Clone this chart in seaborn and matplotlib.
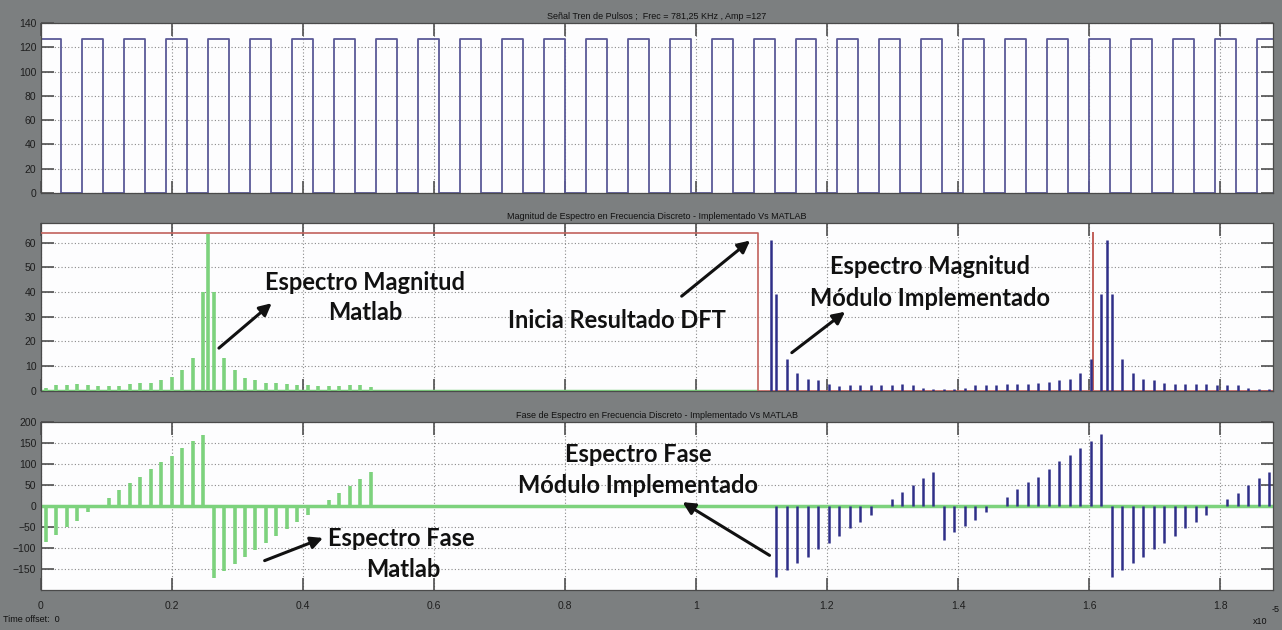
import matplotlib
matplotlib.use("Agg")
import numpy as np
import pandas as pd
import matplotlib.pyplot as plt
import seaborn as sns

# time axis is in units of 1e-5 s (scope shows x10^-5)
pulse_starts = [0.000, 0.064, 0.128, 0.192, 0.256, 0.320, 0.384, 0.448, 0.512, 0.576,
                0.640, 0.704, 0.768, 0.832, 0.896, 0.960, 1.024, 1.088, 1.152, 1.216,
                1.280, 1.344, 1.408, 1.472, 1.536, 1.600, 1.664, 1.728, 1.792, 1.856]
pulse_width = 0.032
pulse_amp = 127

# Matlab spectrum (green)
matlab_t = [0.008, 0.024, 0.040, 0.056, 0.072, 0.088, 0.104, 0.120, 0.136, 0.152, 0.168,
            0.184, 0.200, 0.216, 0.232, 0.248, 0.264, 0.280, 0.296, 0.312, 0.328, 0.344,
            0.360, 0.376, 0.392, 0.408, 0.424, 0.440, 0.456, 0.472, 0.488, 0.504]
matlab_mag = [1.3, 2.5, 2.5, 2.8, 2.5, 2.2, 2.2, 2.0, 2.8, 3.3, 3.3, 4.3, 5.8, 8.4, 13.5, 40,
              40, 13.2, 8.4, 5.3, 4.3, 3.3, 3.3, 2.8, 2.5, 2.5, 2.2, 2.2, 2.2, 2.5, 2.5, 1.7]
matlab_dc_t = [0.256]
matlab_dc = [63.5]
matlab_phase = [-85, -70, -50, -35, -15, 0, 20, 38, 55, 70, 88, 105, 118, 137, 155, 170,
                -172, -155, -138, -122, -105, -88, -72, -55, -38, -22, 0, 15, 30, 48, 65, 82]

# implemented module spectrum (blue), two output frames
impl_t = [1.1225, 1.1385, 1.1545, 1.1705, 1.1865, 1.2025, 1.2185, 1.2345, 1.2505, 1.2665,
          1.2825, 1.2985, 1.3145, 1.3305, 1.3465, 1.3625, 1.3785, 1.3945, 1.4105, 1.4265,
          1.4425, 1.4585, 1.4745, 1.4905, 1.5065, 1.5225, 1.5385, 1.5545, 1.5705, 1.5865,
          1.6025, 1.6185,
          1.6345, 1.6505, 1.6665, 1.6825, 1.6985, 1.7145, 1.7305, 1.7465, 1.7625, 1.7785,
          1.7945, 1.8105, 1.8265, 1.8425, 1.8585, 1.8745]
impl_mag = [39, 13, 7.4, 5.0, 4.3, 3.0, 2.0, 2.4, 2.4, 2.4, 2.4, 2.4, 2.7, 2.4, 1.3, 1.0,
            1.0, 1.0, 1.3, 2.4, 2.4, 2.4, 2.7, 2.7, 2.7, 3.4, 3.6, 4.3, 5.0, 7.4, 13, 39,
            39, 13, 7.4, 5.0, 4.3, 3.3, 2.7, 2.7, 2.7, 2.7, 2.4, 2.4, 2.4, 1.3, 1.0, 1.0]
impl_dc_t = [1.1145, 1.6265]
impl_dc = [61, 61]
impl_phase = [-170, -153, -136, -121, -102, -89, -71, -53, -37, -21, 0, 17, 34, 51, 66, 82,
              -81, -63, -48, -33, -15, 0, 21, 40, 56, 70, 89, 106, 121, 137, 154, 171,
              -170, -153, -136, -121, -102, -89, -71, -53, -37, -21, 0, 17, 32, 49, 66, 82]

# red reference signal in the magnitude scope
red_t = [0.0, 1.094, 1.094, 1.606, 1.606, 1.606, 1.88]
red_y = [64, 64, 0, 0, 64, 0, 0]

t_end = 1.88

# build the pulse train as a step line
px, py = [0.0], [0.0]
for s in pulse_starts:
    px += [s, s, s + pulse_width, s + pulse_width]
    py += [0, pulse_amp, pulse_amp, 0]
px.append(t_end)
py.append(0)
pulses = pd.DataFrame({"t": px, "v": py})
red = pd.DataFrame({"t": red_t, "v": red_y})

sns.set_theme(style="white")
plt.rcParams["font.family"] = ["Liberation Sans Narrow", "Liberation Sans", "DejaVu Sans"]

bg = "#7c7f80"
fig = plt.figure(figsize=(12.82, 6.30), dpi=100, facecolor=bg)

left, width = 0.0316, 0.9611
ax1 = fig.add_axes([left, 0.6937, width, 0.2698])
ax2 = fig.add_axes([left, 0.3794, width, 0.2671])
ax3 = fig.add_axes([left, 0.0635, width, 0.2667])

green = "#7dd27d"
blue = "#2f2f88"
purple = "#5b5a98"
redc = "#c2625c"

# top: pulse train
sns.lineplot(data=pulses, x="t", y="v", ax=ax1, sort=False, estimator=None,
             color=purple, linewidth=1.3)
ax1.set_ylim(0, 140)
ax1.set_yticks(range(0, 141, 20))
ax1.set_title("Señal Tren de Pulsos ;  Frec = 781,25 KHz , Amp =127",
              fontsize=6.5, color="#111111", pad=3)

# middle: magnitude
ax2.hlines(0, 0, 1.094, color=green, linewidth=2.5, zorder=2)
ax2.vlines(matlab_t, 0, matlab_mag, color=green, linewidth=2.6, zorder=3)
ax2.vlines(matlab_dc_t, 0, matlab_dc, color=green, linewidth=2.6, zorder=3)
sns.lineplot(data=red, x="t", y="v", ax=ax2, sort=False, estimator=None,
             color=redc, linewidth=1.2, zorder=4)
ax2.vlines(impl_t, 0, impl_mag, color=blue, linewidth=1.8, zorder=5)
ax2.vlines(impl_dc_t, 0, impl_dc, color=blue, linewidth=1.8, zorder=5)
ax2.set_ylim(0, 68)
ax2.set_yticks(range(0, 61, 10))
ax2.set_title("Magnitud de Espectro en Frecuencia Discreto - Implementado Vs MATLAB",
              fontsize=6.5, color="#111111", pad=3)

# bottom: phase
ax3.axhline(0, color=green, linewidth=2.5, zorder=2)
ax3.vlines(matlab_t, 0, matlab_phase, color=green, linewidth=2.6, zorder=3)
ax3.vlines(impl_t, 0, impl_phase, color=blue, linewidth=1.8, zorder=5)
ax3.set_ylim(-200, 200)
ax3.set_yticks(range(-150, 201, 50))
ax3.set_title("Fase de Espectro en Frecuencia Discreto - Implementado Vs MATLAB",
              fontsize=6.5, color="#111111", pad=3)

for ax in (ax1, ax2, ax3):
    ax.set_facecolor("#fdfdfe")
    ax.set_xlim(0, t_end)
    ax.set_xticks([0, 0.2, 0.4, 0.6, 0.8, 1.0, 1.2, 1.4, 1.6, 1.8])
    ax.grid(True, linestyle=(0, (1, 2)), color="#8a8a8a", linewidth=0.8)
    ax.tick_params(direction="in", length=9, width=1.2, color="#505050",
                   left=True, right=True, top=True, bottom=True,
                   labelsize=7.5, labelcolor="#1e1e1e", pad=3)
    for sp in ax.spines.values():
        sp.set_color("#4a4a4a")
        sp.set_linewidth(0.9)
    ax.set_xlabel("")
    ax.set_ylabel("")

ax1.set_xticklabels([])
ax2.set_xticklabels([])
ax3.set_xticklabels(["0", "0.2", "0.4", "0.6", "0.8", "1", "1.2", "1.4", "1.6", "1.8"])
ax3.tick_params(axis="x", pad=8)

# annotations
tkw = dict(ha="center", va="center", fontsize=17, fontweight="bold",
           family=["Lato", "DejaVu Sans"], color="#111111", zorder=10)
akw = dict(arrowstyle="-|>", color="#111111", lw=2.2, mutation_scale=18)

ax2.text(0.495, 43.8, "Espectro Magnitud", **tkw)
ax2.text(0.495, 31.6, "Matlab", **tkw)
ax2.annotate("", xy=(0.356, 36.2), xytext=(0.269, 16.6), arrowprops=akw)

ax2.text(0.879, 28.4, "Inicia Resultado DFT", **tkw)
ax2.annotate("", xy=(1.086, 61.5), xytext=(0.975, 37.6), arrowprops=akw)

ax2.text(1.357, 50.4, "Espectro Magnitud", **tkw)
ax2.text(1.357, 37.2, "Módulo Implementado", **tkw)
ax2.annotate("", xy=(1.231, 32.7), xytext=(1.143, 14.8), arrowprops=akw)

ax3.text(0.55, -77.6, "Espectro Fase", **tkw)
ax3.text(0.553, -152, "Matlab", **tkw)
ax3.annotate("", xy=(0.435, -73.7), xytext=(0.338, -132.5), arrowprops=akw)

ax3.text(0.912, 122, "Espectro Fase", **tkw)
ax3.text(0.911, 47.8, "Módulo Implementado", **tkw)
ax3.annotate("", xy=(0.976, 12.5), xytext=(1.116, -121), arrowprops=akw)

fig.text(0.002, 0.012, "Time offset:  0", fontsize=6.5, color="#111111")
fig.text(0.977, 0.010, "x10", fontsize=6.5, color="#111111")
fig.text(0.992, 0.028, "-5", fontsize=6.5, color="#111111")

fig.savefig("out.png", dpi=100, facecolor=bg)
